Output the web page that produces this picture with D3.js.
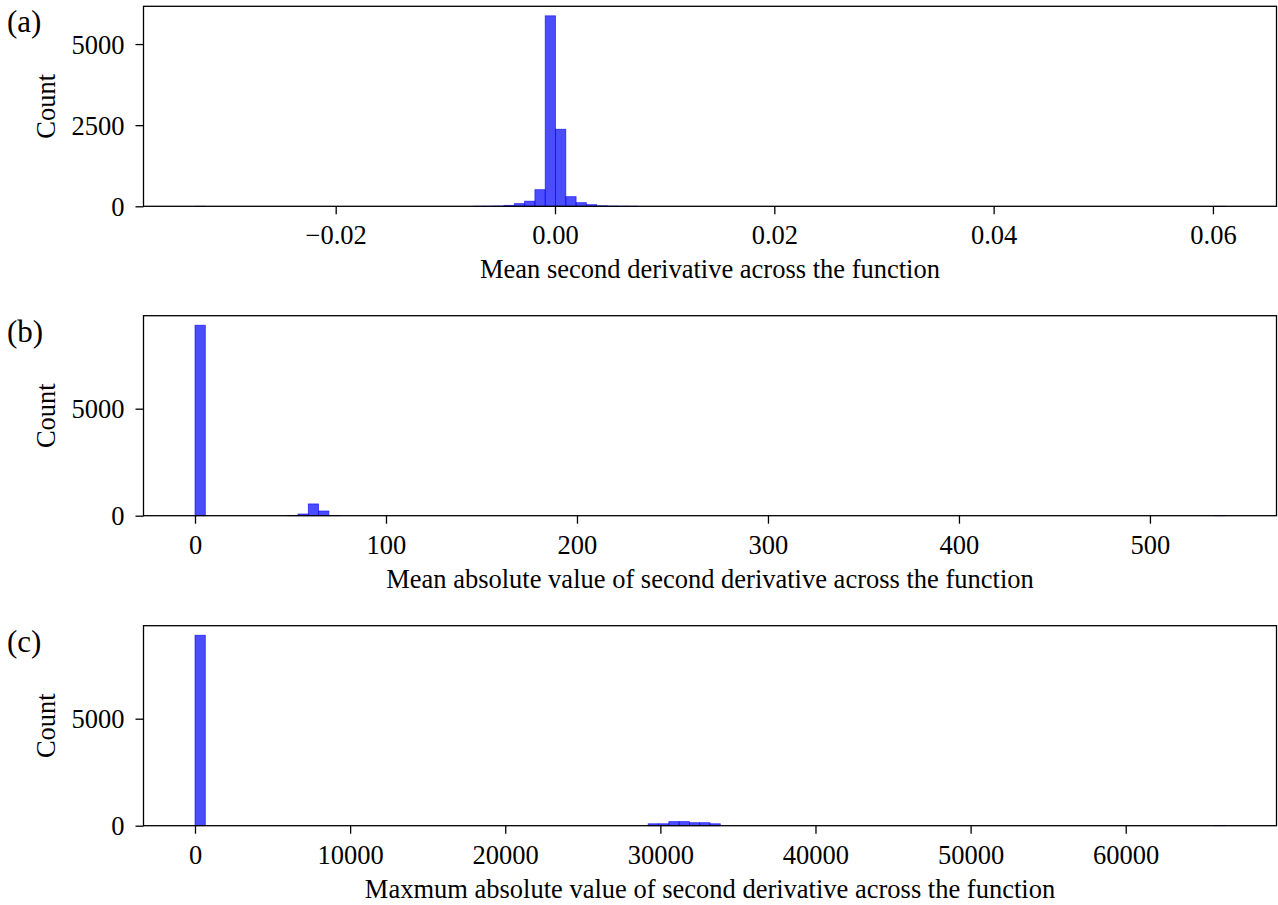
<!DOCTYPE html>
<html>
<head>
<meta charset="utf-8">
<script src="https://cdn.jsdelivr.net/npm/d3@7"></script>
<style>
  body { margin: 0; background: #fff; }
  text { font-family: "Liberation Serif", "Times New Roman", serif; fill: #000; }
</style>
</head>
<body>
<svg id="chart" width="1278" height="905"></svg>
<script>
// ---- Panel (a): mean second derivative across the function ----
const aRange = [-0.03283, 0.06110];           // data min / max spanned by the 100 bins
const aBins = [0, 27, 28, 29, 30, 31, 32, 33, 34, 35, 36, 37, 38, 39, 40, 41, 42, 99];
const aCounts = [1, 3, 5, 10, 30, 82, 158, 512, 5870, 2375, 297, 112, 50, 16, 8, 4, 2, 1];
const aXTicks = [-0.02, 0, 0.02, 0.04, 0.06];
const aYTicks = [0, 2500, 5000];
const aLabel = "Mean second derivative across the function";

// ---- Panel (b): mean absolute value of second derivative ----
const bRange = [0, 539.3];
const bBins = [0, 9, 10, 11, 12, 13, 99];
const bCounts = [8900, 5, 80, 550, 220, 5, 1];
const bXTicks = [0, 100, 200, 300, 400, 500];
const bYTicks = [0, 5000];
const bLabel = "Mean absolute value of second derivative across the function";

// ---- Panel (c): maximum absolute value of second derivative ----
const cRange = [0, 66400];
const cBins = [0, 44, 45, 46, 47, 48, 49, 50, 99];
const cCounts = [8900, 90, 90, 190, 190, 140, 140, 90, 1];
const cXTicks = [0, 10000, 20000, 30000, 40000, 50000, 60000];
const cYTicks = [0, 5000];
const cLabel = "Maxmum absolute value of second derivative across the function";

const NBINS = 100;
const FONT = 26.5;

const svg = d3.select("#chart");

const panels = [
  { tag: "(a)", range: aRange, bins: aBins, counts: aCounts, xt: aXTicks, yt: aYTicks,
    label: aLabel, top: 6.3, fmt: d => d3.format(".2f")(d).replace("-", "\u2212") },
  { tag: "(b)", range: bRange, bins: bBins, counts: bCounts, xt: bXTicks, yt: bYTicks,
    label: bLabel, top: 315.7, fmt: d3.format("d") },
  { tag: "(c)", range: cRange, bins: cBins, counts: cCounts, xt: cXTicks, yt: cYTicks,
    label: cLabel, top: 625.7, fmt: d3.format("d") }
];

const left = 143.5, right = 1276.5, plotH = 200;

panels.forEach(p => {
  const [lo, hi] = p.range;
  const span = hi - lo;
  const w = span / NBINS;
  const x = d3.scaleLinear().domain([lo - 0.05 * span, hi + 0.05 * span]).range([left, right]);
  const y = d3.scaleLinear().domain([0, 1.05 * d3.max(p.counts)]).range([p.top + plotH, p.top]);

  const g = svg.append("g");

  // histogram bars
  g.selectAll("rect.bar")
    .data(p.bins.map((b, i) => ({ b, c: p.counts[i] })))
    .join("rect")
    .attr("class", "bar")
    .attr("x", d => x(lo + d.b * w))
    .attr("width", d => x(lo + (d.b + 1) * w) - x(lo + d.b * w))
    .attr("y", d => y(d.c))
    .attr("height", d => y(0) - y(d.c))
    .attr("fill", "rgb(0,0,255)")
    .attr("fill-opacity", 0.7)
    .attr("stroke", "rgb(0,0,255)")
    .attr("stroke-opacity", 0.7)
    .attr("stroke-width", 0.8);

  // x axis
  const gx = g.append("g")
    .attr("transform", `translate(0,${p.top + plotH})`)
    .call(d3.axisBottom(x).tickValues(p.xt).tickFormat(p.fmt).tickSize(8).tickPadding(6));
  gx.select(".domain").remove();
  gx.selectAll(".tick line").attr("stroke", "#000").attr("stroke-width", 1.3);
  gx.selectAll(".tick text").attr("y", 38).attr("dy", null)
    .style("font-size", FONT + "px").attr("fill", "#000");

  // y axis
  const gy = g.append("g")
    .attr("transform", `translate(${left},0)`)
    .call(d3.axisLeft(y).tickValues(p.yt).tickFormat(d3.format("d")).tickSize(8).tickPadding(11));
  gy.select(".domain").remove();
  gy.selectAll(".tick line").attr("stroke", "#000").attr("stroke-width", 1.3);
  gy.selectAll(".tick text").attr("dy", "0.34em")
    .style("font-size", FONT + "px").attr("fill", "#000");

  // frame
  g.append("rect")
    .attr("x", left).attr("y", p.top)
    .attr("width", right - left).attr("height", plotH)
    .attr("fill", "none").attr("stroke", "#000").attr("stroke-width", 1.3);

  // axis titles
  g.append("text")
    .attr("x", (left + right) / 2).attr("y", p.top + plotH + 72)
    .attr("text-anchor", "middle").style("font-size", FONT + "px")
    .text(p.label);
  g.append("text")
    .attr("transform", `translate(55,${p.top + plotH / 2}) rotate(-90)`)
    .attr("text-anchor", "middle").style("font-size", FONT + "px")
    .text("Count");

  // panel tag
  g.append("text")
    .attr("x", 7).attr("y", p.top + 26)
    .style("font-size", "31px")
    .text(p.tag);
});
</script>
</body>
</html>
